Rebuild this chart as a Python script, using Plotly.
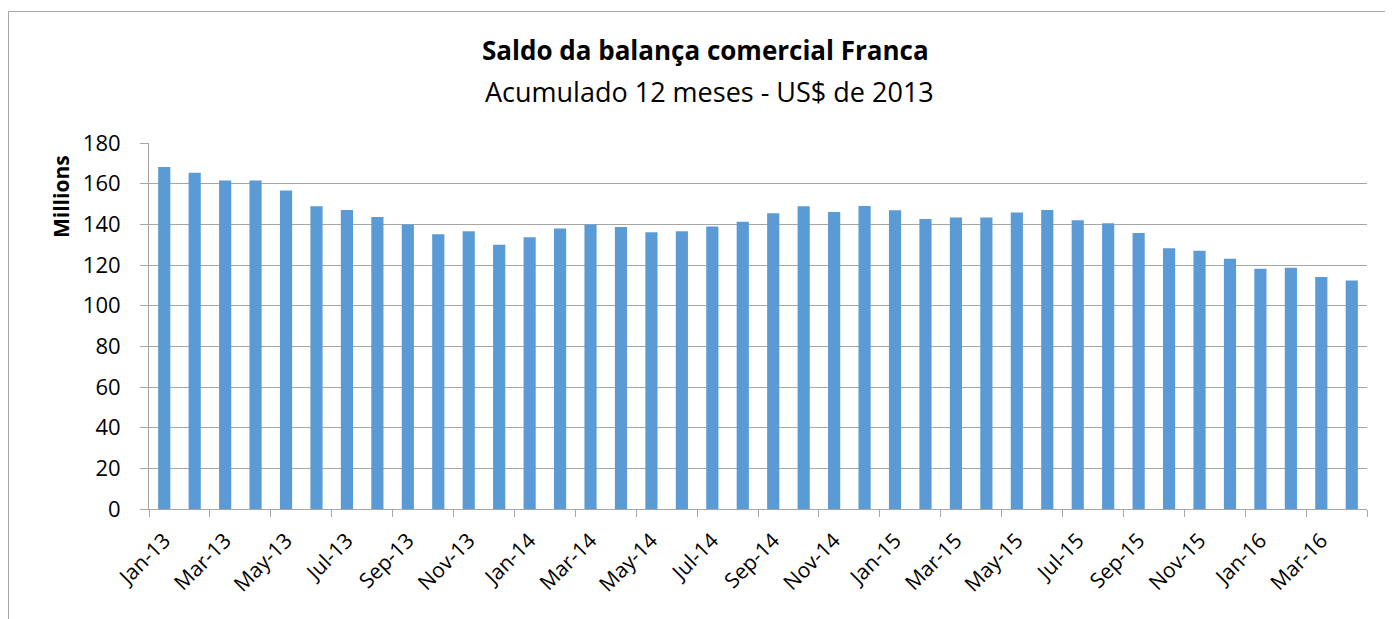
import plotly.graph_objects as go

months = [
    "Jan-13", "Feb-13", "Mar-13", "Apr-13", "May-13", "Jun-13", "Jul-13", "Aug-13", "Sep-13", "Oct-13", "Nov-13", "Dec-13",
    "Jan-14", "Feb-14", "Mar-14", "Apr-14", "May-14", "Jun-14", "Jul-14", "Aug-14", "Sep-14", "Oct-14", "Nov-14", "Dec-14",
    "Jan-15", "Feb-15", "Mar-15", "Apr-15", "May-15", "Jun-15", "Jul-15", "Aug-15", "Sep-15", "Oct-15", "Nov-15", "Dec-15",
    "Jan-16", "Feb-16", "Mar-16", "Apr-16",
]
saldo_millions = [
    168.2, 165.4, 161.5, 161.5, 156.7, 148.9, 147.0, 143.6, 139.9, 135.1, 136.6, 130.0,
    133.6, 138.0, 139.9, 138.7, 136.1, 136.6, 138.9, 141.3, 145.4, 148.9, 146.1, 149.0,
    146.9, 142.6, 143.4, 143.3, 145.8, 147.0, 142.0, 140.5, 135.7, 128.2, 127.0, 123.1,
    118.2, 118.6, 114.1, 112.4,
]

title_text = "Saldo da balança comercial Franca"
subtitle_text = "Acumulado 12 meses - US$ de 2013"
y_title = "Millions"

FONT = "Open Sans"
PAGE_W, PAGE_H = 1393, 619
OFF = 8  # default body margin of the html page
W, H = PAGE_W - OFF, PAGE_H - OFF
# plot area in page pixels
PL, PR, PT, PB = 149, 1367, 143, 509
L, R, T, B = PL - OFF, W - (PR - OFF), PT - OFF, H - (PB - OFF)

def px(x):
    return (x - PL) / (PR - PL)

def py(y):
    return (PB - y) / (PB - PT)

fig = go.Figure()
fig.add_trace(go.Bar(
    x=months, y=saldo_millions,
    marker=dict(color="#5B9BD5", line=dict(width=0)),
    width=0.4,
))

fig.update_layout(
    width=W, height=H,
    margin=dict(l=L, r=R, t=T, b=B),
    paper_bgcolor="white", plot_bgcolor="white",
    showlegend=False,
    font=dict(family=FONT, color="black"),
    xaxis=dict(
        type="category",
        dtick=2,
        tickangle=-45,
        tickfont=dict(size=21, family=FONT, color="black"),
        ticks="outside", tickson="boundaries", ticklen=7, tickcolor="#A6A6A6",
        ticklabelstandoff=10,
        showline=True, linecolor="#A6A6A6", linewidth=1,
        showgrid=False,
        range=[-0.5, len(months) - 0.5],
    ),
    yaxis=dict(
        range=[0, 180], dtick=20,
        tickfont=dict(size=22, family=FONT, color="black"),
        ticks="outside", ticklen=8, tickcolor="#A6A6A6",
        ticklabelstandoff=15,
        showline=True, linecolor="#A6A6A6", linewidth=1,
        showgrid=True, gridcolor="#A6A6A6", gridwidth=1,
        zeroline=False,
    ),
    annotations=[
        dict(text="<b>" + title_text + "</b>", x=px(705), y=py(50), xref="paper", yref="paper",
             xanchor="center", yanchor="middle", showarrow=False,
             font=dict(size=26, family=FONT, color="black")),
        dict(text=subtitle_text, x=px(709), y=py(92), xref="paper", yref="paper",
             xanchor="center", yanchor="middle", showarrow=False,
             font=dict(size=27, family=FONT, color="black")),
        dict(text="<b>" + y_title + "</b>", x=px(61), y=py(197), xref="paper", yref="paper",
             xanchor="center", yanchor="middle", showarrow=False, textangle=-90,
             font=dict(size=21, family=FONT, color="black")),
    ],
    shapes=[
        dict(type="rect", xref="paper", yref="paper",
             x0=px(8.5), x1=px(PAGE_W + 20), y0=py(PAGE_H + 20), y1=py(11.5),
             line=dict(color="#A6A6A6", width=1), fillcolor="rgba(0,0,0,0)", layer="below"),
    ],
)

fig.write_html("out.html")
